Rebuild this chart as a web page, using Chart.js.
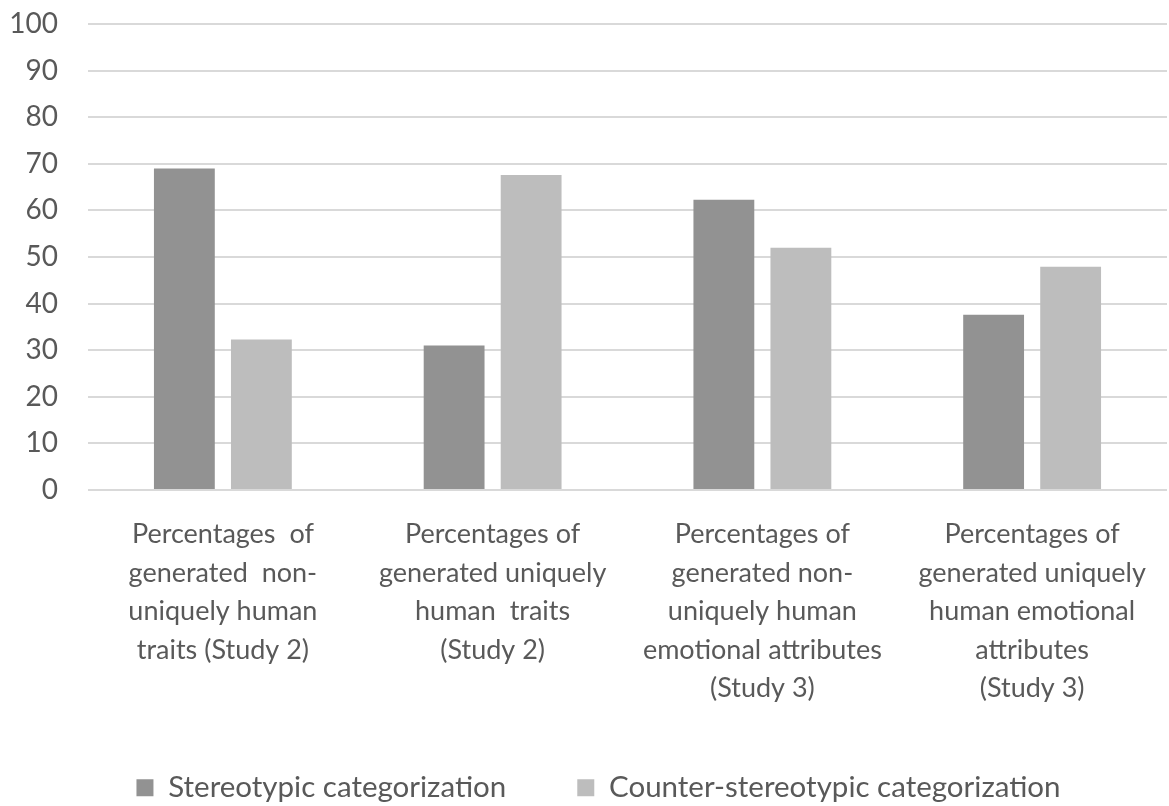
<!DOCTYPE html>
<html>
<head>
<meta charset="utf-8">
<script src="https://cdn.jsdelivr.net/npm/chart.js@4/dist/chart.umd.min.js"></script>
<style>
  html, body { margin: 0; padding: 0; background: #ffffff; }
  #wrap { width: 1169px; height: 806px; }
</style>
</head>
<body>
<div id="wrap"><canvas id="c" width="1169" height="806"></canvas></div>
<script>
const categories = [
  ["Percentages  of", "generated  non-", "uniquely human", "traits (Study 2)"],
  ["Percentages of", "generated uniquely", "human  traits", "(Study 2)"],
  ["Percentages of", "generated non-", "uniquely human", "emotional attributes", "(Study 3)"],
  ["Percentages of", "generated uniquely", "human emotional", "attributes", "(Study 3)"]
];
const seriesNames = ["Stereotypic categorization", "Counter-stereotypic categorization"];
const stereotypic = [69.0, 31.0, 62.3, 37.6];
const counterStereotypic = [32.3, 67.6, 52.0, 47.9];
const yTicks = [0, 10, 20, 30, 40, 50, 60, 70, 80, 90, 100];

const FONT = "Lato, 'Open Sans', sans-serif";
const TEXT = "#595959";

// centre the legend over the span x = 30 .. right edge, as in the original
const legendShift = {
  id: "legendShift",
  beforeDraw(chart) { if (chart.legend) { chart.legend.left = 30; } }
};

new Chart(document.getElementById("c"), {
  type: "bar",
  data: {
    labels: categories,
    datasets: [
      { label: seriesNames[0], data: stereotypic, backgroundColor: "#929292", borderWidth: 0,
        categoryPercentage: 0.571, barPercentage: 0.79 },
      { label: seriesNames[1], data: counterStereotypic, backgroundColor: "#bdbdbd", borderWidth: 0,
        categoryPercentage: 0.571, barPercentage: 0.79 }
    ]
  },
  plugins: [legendShift],
  options: {
    responsive: false,
    animation: false,
    layout: { padding: { top: 24, left: 0, right: 2, bottom: 4 } },
    plugins: {
      tooltip: { enabled: false },
      legend: {
        position: "bottom",
        maxHeight: 100,
        labels: {
          color: TEXT,
          font: { family: FONT, size: 29.5 },
          boxWidth: 17, boxHeight: 17,
          padding: 71
        }
      }
    },
    scales: {
      x: {
        grid: { display: false, drawTicks: false },
        border: { display: false },
        afterFit: (s) => { s.height = 212; s.paddingLeft = 0; s.paddingRight = 0; },
        ticks: {
          color: TEXT,
          font: { family: FONT, size: 27, lineHeight: 1.43 },
          padding: 25,
          maxRotation: 0,
          minRotation: 0,
          autoSkip: false
        }
      },
      y: {
        min: 0, max: 100,
        afterBuildTicks: (axis) => { axis.ticks = yTicks.map(v => ({ value: v })); },
        afterFit: (s) => { s.width = 88; s.paddingTop = 0; s.paddingBottom = 0; },
        grid: { color: "#d9d9d9", lineWidth: 2, drawTicks: false },
        border: { display: false },
        ticks: {
          color: TEXT,
          font: { family: FONT, size: 28 },
          padding: 30
        }
      }
    }
  }
});
</script>
</body>
</html>
